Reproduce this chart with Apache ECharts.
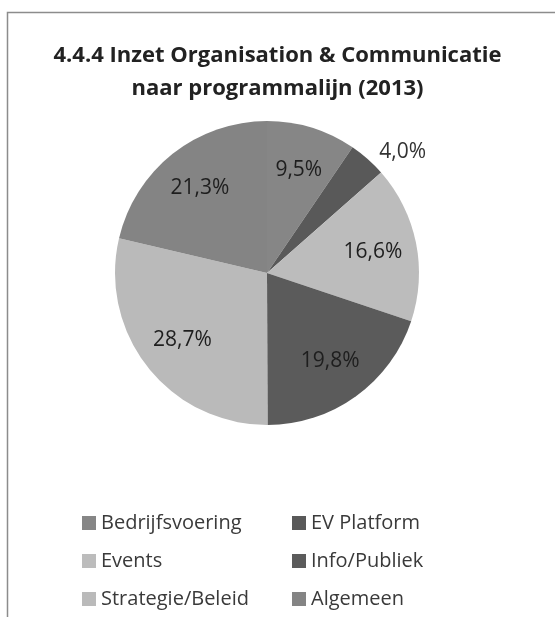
<!DOCTYPE html>
<html>
<head>
<meta charset="utf-8">
<script src="https://cdn.jsdelivr.net/npm/echarts@6/dist/echarts.min.js"></script>
<style>
  html, body { margin: 0; padding: 0; background: #fff; }
  #chart { width: 555px; height: 617px; }
</style>
</head>
<body>
<div id="chart"></div>
<script>
// programmalijnen, in volgorde met de klok mee vanaf 12 uur
const categories = ['Bedrijfsvoering', 'EV Platform', 'Events', 'Info/Publiek', 'Strategie/Beleid', 'Algemeen'];
const shares = [9.5, 4.0, 16.6, 19.8, 28.7, 21.3];
const colors = ['#868686', '#595959', '#bcbcbc', '#5b5b5b', '#bababa', '#848484'];

const font = '"Open Sans", "Noto Sans", sans-serif';
const leftLegend = [categories[0], categories[2], categories[4]];
const rightLegend = [categories[1], categories[3], categories[5]];

const chart = echarts.init(document.getElementById('chart'));

const pieData = categories.map((name, i) => ({
  name,
  value: shares[i],
  itemStyle: { color: colors[i] }
}));

// overlay ring only carries the labels (Excel puts them further out than the middle of the radius)
const labelData = categories.map((name, i) => {
  const item = { name, value: shares[i] };
  if (shares[i] < 5) {
    item.label = { position: 'outside', color: '#333' };
    item.labelLine = { show: false, length: 10, length2: 0 };
  }
  return item;
});

const legendBase = {
  orient: 'vertical',
  icon: 'rect',
  itemWidth: 14,
  itemHeight: 14,
  itemGap: 18,
  padding: 0,
  selectedMode: false,
  textStyle: { fontFamily: font, fontSize: 20, color: '#3a3a3a' }
};

chart.setOption({
  animation: false,
  color: colors,
  title: {
    text: '4.4.4 Inzet Organisation & Communicatie\nnaar programmalijn (2013)',
    left: 'center',
    top: 34,
    textStyle: {
      fontFamily: font,
      fontSize: 22,
      fontWeight: 'bold',
      color: '#222',
      lineHeight: 33,
      align: 'center'
    }
  },
  legend: [
    Object.assign({}, legendBase, { data: leftLegend, left: 82, top: 513 }),
    Object.assign({}, legendBase, { data: rightLegend, left: 292, top: 513 })
  ],
  graphic: [{
    type: 'rect',
    shape: { x: 7.5, y: 12.5, width: 620, height: 700 },
    style: { fill: 'none', stroke: '#8c8c8c', lineWidth: 1.5 },
    silent: true
  }],
  series: [
    {
      type: 'pie',
      center: [267, 273],
      radius: [0, 152],
      startAngle: 90,
      clockwise: true,
      silent: true,
      label: { show: false },
      labelLine: { show: false },
      data: pieData
    },
    {
      type: 'pie',
      center: [267, 273],
      radius: [58, 152],
      startAngle: 90,
      clockwise: true,
      silent: true,
      itemStyle: { color: 'rgba(0,0,0,0)' },
      label: {
        show: true,
        position: 'inside',
        fontFamily: font,
        fontSize: 21,
        color: '#1e1e1e',
        formatter: p => p.value.toFixed(1).replace('.', ',') + '%'
      },
      data: labelData
    }
  ]
});
</script>
</body>
</html>
